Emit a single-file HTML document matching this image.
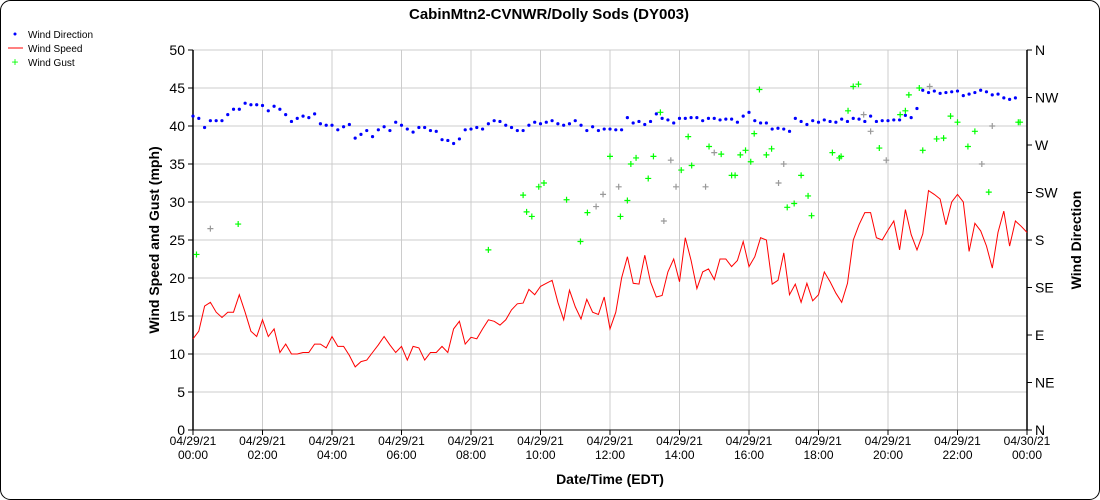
<!DOCTYPE html>
<html><head><meta charset="utf-8"><style>
body{margin:0;background:#fff;}
svg{display:block;font-family:"Liberation Sans",sans-serif;}
</style></head><body>
<svg id="chart" width="1100" height="500">
<rect x="0.5" y="0.5" width="1099" height="499" rx="10" fill="#fff" stroke="#000"/>
<text x="549" y="19" text-anchor="middle" font-size="15" font-weight="bold">CabinMtn2-CVNWR/Dolly Sods (DY003)</text>
<g font-size="10">
<g><circle cx="15" cy="34" r="1.5" fill="#00f"/><text x="28" y="38">Wind Direction</text></g>
<g><line x1="8" y1="48" x2="23" y2="48" stroke="#f00"/><text x="28" y="52">Wind Speed</text></g>
<g><text x="15" y="66" fill="#0f0" text-anchor="middle" font-size="12">+</text><text x="28" y="66">Wind Gust</text></g>
</g>
<g id="grid"></g><g id="axes"></g><g id="marks"></g>
<text transform="translate(159,240) rotate(-90)" text-anchor="middle" font-size="14" font-weight="bold">Wind Speed and Gust (mph)</text>
<text transform="translate(1081,240) rotate(-90)" text-anchor="middle" font-size="14" font-weight="bold">Wind Direction</text>
<text x="610" y="484" text-anchor="middle" font-size="14" font-weight="bold">Date/Time (EDT)</text>
</svg>
<script>
const speed=[12,13,16.3,16.8,15.5,14.8,15.5,15.5,17.8,15.5,13,12.3,14.5,12.3,13.3,10.2,11.3,10,10,10.2,10.2,11.3,11.3,10.8,12.3,11,11,9.8,8.3,9,9.2,10.2,11.2,12.3,11.2,10.2,11,9.2,11,10.8,9.2,10.2,10.2,11,10.2,13.3,14.3,11.3,12.2,12,13.3,14.5,14.3,13.8,14.5,15.8,16.6,16.7,18.5,17.8,18.9,19.3,19.7,16.8,14.5,18.4,16.2,14.6,17.2,15.5,15.2,17.5,13.3,15.5,20,22.8,19.3,19.2,23,19.5,17.5,17.7,20.8,22.5,19.5,25.3,22.3,18.6,20.8,21.2,19.8,22.5,22.5,21.5,22.3,24.8,21.5,22.8,25.3,25,19.2,19.7,23.3,17.8,19.2,16.8,19.3,17,17.8,20.8,19.5,18,16.8,19.3,25,27,28.6,28.6,25.3,25,26.3,27.5,23.7,29,25.7,23.7,25.8,31.5,31,30.4,27,30,31,30,23.5,27.2,26.2,24.2,21.3,26,28.8,24.2,27.5,26.8,26];
const dirMph=[41.3,41,39.8,40.7,40.7,40.7,41.5,42.2,42.2,43,42.8,42.8,42.7,42,42.6,42.2,41.5,40.6,41,41.3,41.1,41.6,40.3,40.1,40.1,39.5,39.9,40.2,38.4,38.9,39.4,38.6,39.5,39.9,39.4,40.5,40.1,39.6,39.2,39.8,39.8,39.4,39.3,38.2,38.1,37.7,38.3,39.5,39.6,39.8,39.6,40.3,40.7,40.6,40.1,39.8,39.4,39.4,40.1,40.5,40.3,40.5,40.7,40.3,40.1,40.3,40.7,40.1,39.4,39.9,39.4,39.6,39.6,39.5,39.5,41.1,40.4,40.6,40.2,40.6,41.6,41,40.8,40.4,41,41,41.1,41.1,40.7,41,41,40.8,40.9,40.9,40.5,41.3,41.8,40.7,40.4,40.4,39.6,39.7,39.6,39.3,41,40.6,40.2,40.7,40.5,40.8,40.6,40.5,40.9,40.6,41,40.9,40.6,41.3,40.6,40.7,40.7,40.8,40.8,41.4,41.1,42.3,44.7,44.4,44.6,44.3,44.4,44.5,44.6,44,44.2,44.4,44.7,44.5,44.1,44.2,43.7,43.5,43.7];
const direction=dirMph.map(v=>v*7.2);
const gustHours=[0.1,0.5,1.3,8.5,9.5,9.6,9.75,9.95,10.1,10.75,11.15,11.35,11.6,11.8,12.0,12.25,12.3,12.5,12.6,12.75,13.1,13.25,13.45,13.55,13.75,13.9,14.05,14.25,14.35,14.75,14.85,15.0,15.2,15.5,15.6,15.75,15.9,16.05,16.15,16.3,16.5,16.65,16.85,17.0,17.1,17.3,17.5,17.7,17.8,18.4,18.6,18.65,18.85,19.0,19.15,19.3,19.5,19.75,19.95,20.35,20.5,20.6,20.9,21.0,21.2,21.4,21.6,21.8,22.0,22.3,22.5,22.7,22.9,23.0,23.75,23.8];
const gustValues=[23.1,26.5,27.1,23.7,30.9,28.7,28.1,32,32.5,30.3,24.8,28.6,29.4,31,36,32,28.1,30.2,35,35.8,33.1,36,41.8,27.5,35.5,32,34.2,38.6,34.8,32,37.3,36.5,36.3,33.5,33.5,36.2,36.8,35.3,39,44.8,36.2,37,32.5,35,29.3,29.8,33.5,30.8,28.2,36.5,35.8,36,42,45.2,45.5,41.5,39.3,37.1,35.5,41.5,42,44.1,45,36.8,45.2,38.3,38.4,41.3,40.5,37.3,39.3,35,31.3,40,40.5,40.5];
const gustGray=[0,1,0,0,0,0,0,0,0,0,0,0,1,1,0,1,0,0,0,0,0,0,0,1,1,1,0,0,0,1,0,1,0,0,0,0,0,0,0,0,0,0,1,1,0,0,0,0,0,0,0,0,0,0,0,1,1,0,1,0,0,0,0,0,1,0,0,0,0,0,0,1,0,1,0,0];
const yTicks=[0,5,10,15,20,25,30,35,40,45,50];
const dirLabels=['N','NE','E','SE','S','SW','W','NW','N'];
const xLabels=['00:00','02:00','04:00','06:00','08:00','10:00','12:00','14:00','16:00','18:00','20:00','22:00','00:00'];
const xDates=['04/29/21','04/29/21','04/29/21','04/29/21','04/29/21','04/29/21','04/29/21','04/29/21','04/29/21','04/29/21','04/29/21','04/29/21','04/30/21'];

const L=193,R=1027,T=50,B=430,NS='http://www.w3.org/2000/svg';
const x=h=>L+(R-L)*h/24, y=v=>B-(B-T)*v/50, yd=d=>B-(B-T)*d/360;
function mk(tag,attrs,parent,txt){const e=document.createElementNS(NS,tag);for(const k in attrs)e.setAttribute(k,attrs[k]);if(txt!==undefined)e.textContent=txt;parent.appendChild(e);return e;}
const grid=document.getElementById('grid'),axes=document.getElementById('axes'),marks=document.getElementById('marks');
yTicks.forEach(v=>{
 const g=mk('line',{x1:L,x2:R,y1:y(v),y2:y(v),stroke:'#ccc'},grid);
 
 
 mk('line',{x1:L-5,x2:L,y1:y(v),y2:y(v),stroke:'#000'},axes);
 const t=mk('text',{x:L-8,y:y(v)+5,'text-anchor':'end','font-size':14},axes,v);
 
 
});
xLabels.forEach((lab,i)=>{
 const xx=x(i*2);
 const g=mk('line',{x1:xx,x2:xx,y1:T,y2:B,stroke:'#ccc'},grid);
 
 
 mk('line',{x1:xx,x2:xx,y1:B,y2:B+5,stroke:'#000'},axes);
 const t=mk('text',{x:xx,y:B+15,'text-anchor':'middle','font-size':12},axes,xDates[i]);
 
 
 const t2=mk('text',{x:xx,y:B+29,'text-anchor':'middle','font-size':12},axes,lab);
 
 
});
dirLabels.forEach((lab,i)=>{
 const yy=yd(i*45);
 mk('line',{x1:R,x2:R+5,y1:yy,y2:yy,stroke:'#000'},axes);
 const t=mk('text',{x:R+8,y:yy+5,'font-size':14},axes,lab);
 
 
});
mk('line',{x1:L,x2:L,y1:T,y2:B,stroke:'#000','stroke-width':1.5},axes);
mk('line',{x1:R,x2:R,y1:T,y2:B,stroke:'#000','stroke-width':1.5},axes);
mk('line',{x1:L,x2:R,y1:B,y2:B,stroke:'#000'},axes);
const step=24/(speed.length-1);
const line=mk('polyline',{points:speed.map((v,i)=>x(i*step).toFixed(1)+','+y(v).toFixed(1)).join(' '),fill:'none',stroke:'#f00','stroke-width':1},marks);


direction.forEach((d,i)=>{
 const c=mk('circle',{cx:x(i*step),cy:yd(d),r:1.6,fill:'#00f'},marks);
 
 
});
gustValues.forEach((v,i)=>{
 const col=gustGray[i]?'#999':'#0f0';
 const cx=x(gustHours[i]),cy=y(v);
 const g=mk('path',{d:`M${cx-3},${cy}H${cx+3}M${cx},${cy-3}V${cy+3}`,stroke:col,'stroke-width':1.2},marks);
 
 
});
</script>
</body></html>
